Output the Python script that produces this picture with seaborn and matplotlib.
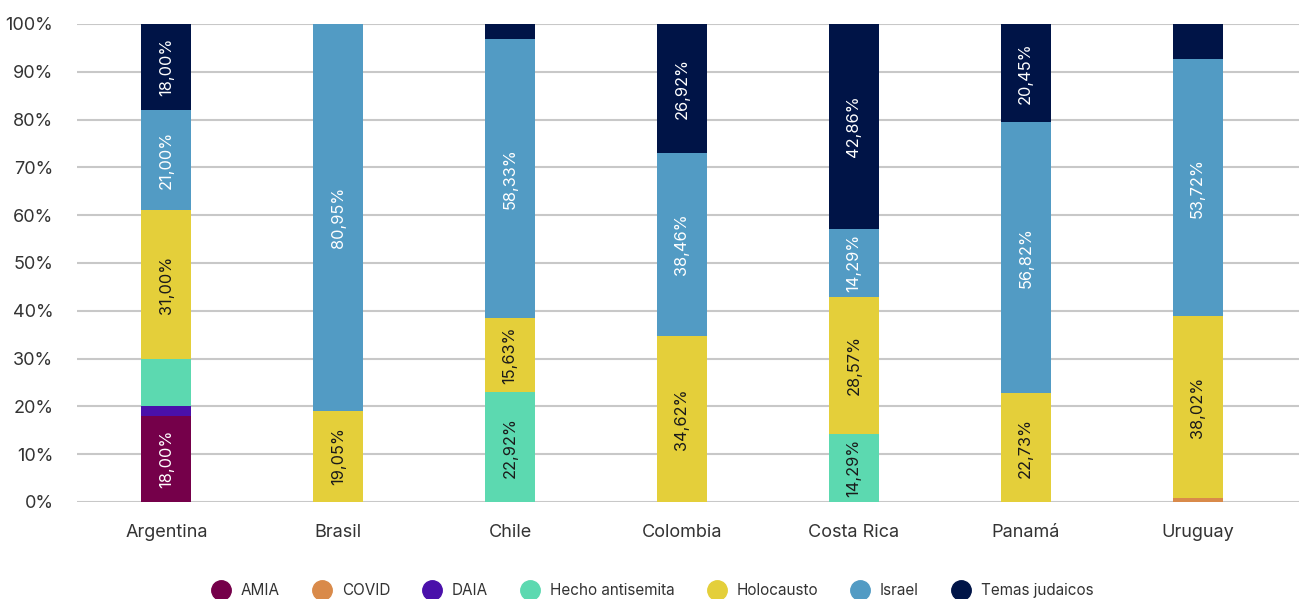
import matplotlib
matplotlib.use('Agg')
import matplotlib.pyplot as plt
from matplotlib.lines import Line2D
import seaborn as sns
import pandas as pd
import numpy as np

# countries and topic shares (% of mentions per country)
countries = ['Argentina', 'Brasil', 'Chile', 'Colombia', 'Costa Rica', 'Panamá', 'Uruguay']
topics = ['AMIA', 'COVID', 'DAIA', 'Hecho antisemita', 'Holocausto', 'Israel', 'Temas judaicos']

amia = [18.00, 0, 0, 0, 0, 0, 0]
covid = [0, 0, 0, 0, 0, 0, 0.83]
daia = [2.00, 0, 0, 0, 0, 0, 0]
hecho = [10.00, 0, 22.92, 0, 14.29, 0, 0]
holocausto = [31.00, 19.05, 15.63, 34.62, 28.57, 22.73, 38.02]
israel = [21.00, 80.95, 58.33, 38.46, 14.29, 56.82, 53.72]
temas = [18.00, 0, 3.12, 26.92, 42.86, 20.45, 7.44]

colors = ['#75004a', '#d98a4a', '#4a10aa', '#5cd9b0', '#e4cf3a', '#529bc4', '#001447']
label_colors = ['white', 'white', 'white', '#1a1a1a', '#1a1a1a', 'white', 'white']

df = pd.DataFrame({'pais': countries, 'AMIA': amia, 'COVID': covid, 'DAIA': daia,
                   'Hecho antisemita': hecho, 'Holocausto': holocausto,
                   'Israel': israel, 'Temas judaicos': temas})

sns.set_style('white')
plt.rcParams['font.family'] = ['Inter', 'DejaVu Sans']

fig = plt.figure(figsize=(12.99, 5.99), dpi=100)
ax = fig.add_axes([77 / 1299, 0.162, 1 - 77 / 1299, 0.798])

# stacked bars: draw cumulative totals from the top layer down
cum = df[topics].cumsum(axis=1)
for i in range(len(topics) - 1, -1, -1):
    t = topics[i]
    sns.barplot(x=df['pais'], y=cum[t], color=colors[i], width=0.29,
                saturation=1, ax=ax, zorder=3, linewidth=0)

# value labels inside larger segments
for j, c in enumerate(countries):
    for i, t in enumerate(topics):
        v = df.loc[j, t]
        if v > 12:
            mid = cum.loc[j, t] - v / 2
            ax.text(j, mid, f'{v:.2f}%'.replace('.', ','), rotation=90,
                    ha='center', va='center', fontsize=11.8,
                    color=label_colors[i], zorder=4)

ax.set_ylim(0, 100)
ax.set_xlim(-0.52, 6.59)
ax.set_yticks(np.arange(0, 101, 10))
ax.set_yticklabels([f'{v}%' for v in range(0, 101, 10)])
ax.yaxis.grid(True, color='#c8c8c8', linewidth=1.5, zorder=0)
ax.set_axisbelow(True)
ax.tick_params(axis='y', length=0, pad=17, labelsize=13, labelcolor='#333333')
ax.tick_params(axis='x', length=0, pad=16, labelsize=13, labelcolor='#333333')
ax.set_xlabel('')
ax.set_ylabel('')
sns.despine(ax=ax, left=True, bottom=True)

handles = [Line2D([0], [0], marker='o', linestyle='', markersize=14,
                  markerfacecolor=colors[i], markeredgecolor=colors[i], label=t)
           for i, t in enumerate(topics)]
fig.legend(handles=handles, loc='center', bbox_to_anchor=(0.5, 0.014), ncol=7,
           frameon=False, fontsize=11, handletextpad=0.3, columnspacing=1.75,
           labelcolor='#333333')

fig.savefig('out.png', dpi=100)
